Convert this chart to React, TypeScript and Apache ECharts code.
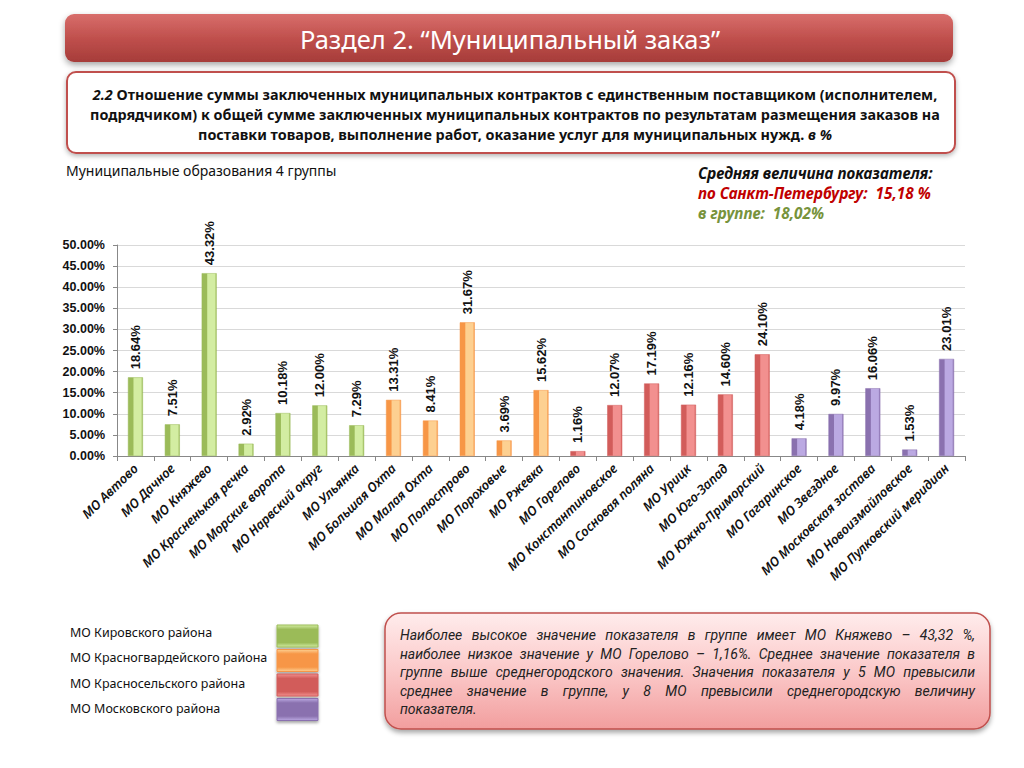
import React, { useEffect, useRef } from "react";
import * as echarts from "echarts";

const categories = [
  "МО Автово", "МО Дачное", "МО Княжево", "МО Красненькая речка", "МО Морские ворота",
  "МО Нарвский округ", "МО Ульянка", "МО Большая Охта", "МО Малая Охта", "МО Полюстрово",
  "МО Пороховые", "МО Ржевка", "МО Горелово", "МО Константиновское", "МО Сосновая поляна",
  "МО Урицк", "МО Юго-Запад", "МО Южно-Приморский", "МО Гагаринское", "МО Звездное",
  "МО Московская застава", "МО Новоизмайловское", "МО Пулковский меридиан",
];
const values = [
  18.64, 7.51, 43.32, 2.92, 10.18, 12.0, 7.29, 13.31, 8.41, 31.67, 3.69, 15.62,
  1.16, 12.07, 17.19, 12.16, 14.6, 24.1, 4.18, 9.97, 16.06, 1.53, 23.01,
];
const districtOf = [0, 0, 0, 0, 0, 0, 0, 1, 1, 1, 1, 1, 2, 2, 2, 2, 2, 2, 3, 3, 3, 3, 3];
const districts = [
  "МО Кировского района",
  "МО Красногвардейского района",
  "МО Красносельского района",
  "МО Московского района",
];
const darkColors = ["#9BBB59", "#F79646", "#D25C5A", "#8A71AF"];
const lightColors = ["#D3EDA2", "#FDD091", "#F2908F", "#BBA9E2"];

const titleText = "Раздел 2. “Муниципальный заказ”";
const headerLines = [
  "{i|2.2} Отношение суммы заключенных муниципальных контрактов с единственным поставщиком (исполнителем,",
  "подрядчиком) к общей сумме заключенных муниципальных контрактов по результатам размещения заказов на",
  "поставки товаров, выполнение работ, оказание услуг для муниципальных нужд. {i|в %}",
];
const groupLabel = "Муниципальные образования 4 группы";
const avgTitle = "Средняя величина показателя:";
const avgCity = "по Санкт-Петербургу:  15,18 %";
const avgGroup = "в группе:  18,02%";
const noteLines = [
  "Наиболее высокое значение показателя в группе имеет МО Княжево – 43,32 %,",
  "наиболее низкое значение у МО Горелово – 1,16%. Среднее значение показателя в",
  "группе выше среднегородского значения. Значения показателя у 5 МО превысили",
  "среднее значение в группе, у 8 МО превысили среднегородскую величину",
  "показателя.",
];

const FONT = "'Noto Sans', 'DejaVu Sans', sans-serif";
const NUMFONT = "'Liberation Sans', Arial, sans-serif";
const NOTEFONT = "Roboto";

function justifiedLines(lines: string[], x0: number, width: number, y0: number, lh: number, size: number) {
  const ctx = document.createElement("canvas").getContext("2d") as CanvasRenderingContext2D;
  ctx.font = `italic ${size}px ${NOTEFONT}`;
  const els: any[] = [];
  lines.forEach((line, li) => {
    const y = y0 + li * lh;
    const words = line.split(" ");
    if (li === lines.length - 1 || words.length < 2) {
      els.push({
        type: "text", x: x0, y,
        style: { text: line, font: `italic ${size}px ${NOTEFONT}`, fill: "#222", verticalAlign: "middle" },
      });
      return;
    }
    const ws = words.map((w) => ctx.measureText(w).width);
    const total = ws.reduce((a, b) => a + b, 0);
    const gap = Math.max(3, (width - total) / (words.length - 1));
    let x = x0;
    words.forEach((w, i) => {
      els.push({
        type: "text", x, y,
        style: { text: w, font: `italic ${size}px ${NOTEFONT}`, fill: "#222", verticalAlign: "middle" },
      });
      x += ws[i] + gap;
    });
  });
  return els;
}

export default function App() {
  const ref = useRef<HTMLDivElement>(null);
  useEffect(() => {
    if (!ref.current) return;
    const chart = echarts.init(ref.current, null, { renderer: "svg" });
    const barGradient = (g: number) =>
      new echarts.graphic.LinearGradient(0, 0, 1, 0, [
        { offset: 0, color: darkColors[g] },
        { offset: 0.33, color: darkColors[g] },
        { offset: 0.4, color: lightColors[g] },
        { offset: 0.88, color: lightColors[g] },
        { offset: 1, color: darkColors[g] },
      ]);
    const swatchGradient = (g: number) =>
      new echarts.graphic.LinearGradient(0, 0, 0, 1, [
        { offset: 0, color: lightColors[g] },
        { offset: 0.2, color: darkColors[g] },
        { offset: 0.8, color: darkColors[g] },
        { offset: 1, color: lightColors[g] },
      ]);

    const graphics: any[] = [
      {
        type: "rect",
        shape: { x: 65, y: 14, width: 888, height: 48, r: 9 },
        style: {
          fill: new echarts.graphic.LinearGradient(0, 0, 0, 1, [
            { offset: 0, color: "#D86E6B" },
            { offset: 0.5, color: "#C0504D" },
            { offset: 1, color: "#A63C39" },
          ]),
          shadowBlur: 6, shadowColor: "rgba(0,0,0,0.35)", shadowOffsetY: 3,
        },
      },
      {
        type: "text", x: 510, y: 39,
        style: { text: titleText, font: `25.5px ${FONT}`, fill: "#ffffff", align: "center", verticalAlign: "middle" },
      },
      {
        type: "rect",
        shape: { x: 67, y: 72, width: 888, height: 81, r: 9 },
        style: {
          fill: "#ffffff", stroke: "#C0504D", lineWidth: 2,
          shadowBlur: 5, shadowColor: "rgba(0,0,0,0.3)", shadowOffsetY: 2,
        },
      },
      ...headerLines.map((t, i) => ({
        type: "text", x: 515, y: 94 + i * 20,
        style: {
          text: t, font: `bold 14.4px ${FONT}`, fill: "#111", align: "center", verticalAlign: "middle",
          rich: { i: { fontStyle: "italic", fontWeight: "bold", fontSize: 14.4, fontFamily: FONT, fill: "#111" } },
        },
      })),
      {
        type: "text", x: 66, y: 170,
        style: { text: groupLabel, font: `14px ${FONT}`, fill: "#111", verticalAlign: "middle" },
      },
      {
        type: "text", x: 698, y: 173,
        style: { text: avgTitle, font: `italic bold 15.3px ${FONT}`, fill: "#111", verticalAlign: "middle" },
      },
      {
        type: "text", x: 698, y: 193,
        style: { text: avgCity, font: `italic bold 15.3px ${FONT}`, fill: "#C00000", verticalAlign: "middle" },
      },
      {
        type: "text", x: 698, y: 213,
        style: { text: avgGroup, font: `italic bold 15.3px ${FONT}`, fill: "#77933C", verticalAlign: "middle" },
      },
      ...districts.flatMap((d, i) => [
        {
          type: "text", x: 70, y: 632 + i * 25.5,
          style: { text: d, font: `12.5px ${FONT}`, fill: "#111", verticalAlign: "middle" },
        },
        {
          type: "rect",
          shape: { x: 277, y: 625 + i * 24.5, width: 41, height: 22 },
          style: {
            fill: swatchGradient(i), stroke: darkColors[i], lineWidth: 1,
            shadowBlur: 3, shadowColor: "rgba(0,0,0,0.35)", shadowOffsetY: 2,
          },
        },
      ]),
      {
        type: "rect",
        shape: { x: 385, y: 613, width: 605, height: 116, r: 16 },
        style: {
          fill: new echarts.graphic.LinearGradient(0, 0, 0, 1, [
            { offset: 0, color: "#FFECEC" },
            { offset: 0.5, color: "#FBC9C9" },
            { offset: 1, color: "#F29E9E" },
          ]),
          stroke: "#C0504D", lineWidth: 1.5,
          shadowBlur: 5, shadowColor: "rgba(0,0,0,0.35)", shadowOffsetY: 3,
        },
      },
      ...justifiedLines(noteLines, 400, 575, 635, 18.6, 14),
    ];

    chart.setOption({
      animation: false,
      textStyle: { fontFamily: FONT },
      grid: { left: 117, right: 59, top: 245, bottom: 312, containLabel: false },
      xAxis: {
        type: "category",
        data: categories,
        axisLine: { show: true, lineStyle: { color: "#888888" } },
        axisTick: { show: true, length: 5, lineStyle: { color: "#888888" } },
        axisLabel: {
          interval: 0, rotate: 44, margin: 10, color: "#111",
          fontSize: 13, fontStyle: "italic", fontWeight: 600, fontFamily: FONT,
        },
      },
      yAxis: {
        type: "value",
        min: 0, max: 50, interval: 5,
        axisLine: { show: true, lineStyle: { color: "#888888" } },
        axisTick: { show: true, length: 4, lineStyle: { color: "#888888" } },
        splitLine: { lineStyle: { color: "#D9D9D9" } },
        axisLabel: {
          margin: 12, color: "#111", fontSize: 12.5, fontWeight: "bold", fontFamily: NUMFONT,
          formatter: (v: number) => v.toFixed(2) + "%",
        },
      },
      series: [
        {
          type: "bar",
          barWidth: 15,
          data: values.map((v, i) => ({
            value: v,
            itemStyle: { color: barGradient(districtOf[i]), borderColor: darkColors[districtOf[i]], borderWidth: 0.5 },
          })),
          label: {
            show: true, position: "top", rotate: 90, distance: 8,
            align: "left", verticalAlign: "middle",
            color: "#111", fontSize: 13, fontWeight: "bold", fontFamily: NUMFONT,
            formatter: (p: any) => Number(p.value).toFixed(2) + "%",
          },
        },
      ],
      graphic: graphics,
    });
    return () => chart.dispose();
  }, []);
  return (
    <div
      ref={ref}
      style={{ position: "fixed", left: 0, top: 0, width: 1024, height: 768, background: "#ffffff" }}
    />
  );
}
